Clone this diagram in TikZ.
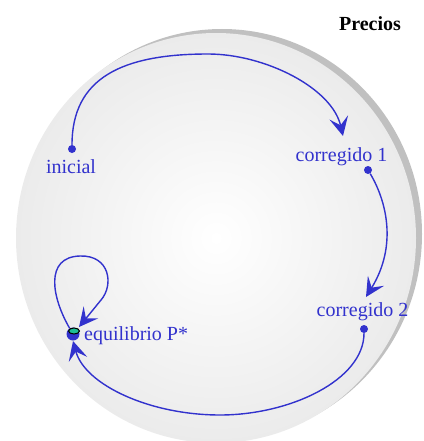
\documentclass[tikz,border=0pt]{standalone}
\usepackage{fontspec}
\setmainfont{Liberation Serif}
\usetikzlibrary{arrows.meta}
\definecolor{flowblue}{RGB}{50,50,205}
\definecolor{eqteal}{RGB}{30,190,150}
\definecolor{shadowgray}{RGB}{192,192,192}
\pgfdeclareradialshading{ball}{\pgfpoint{0bp}{0bp}}{color(0bp)=(white); color(32bp)=(black!10); color(50bp)=(black!11)}
\begin{document}
\begin{tikzpicture}[x=1pt,y=-1pt,
  dot/.style={circle,fill=flowblue,inner sep=0pt,minimum size=8pt},
  lbl/.style={text=flowblue,font=\rmfamily\fontsize{20}{24}\selectfont,inner sep=0pt,anchor=base},
  flow/.style={draw=flowblue,line width=1.4pt,-{Stealth[length=19pt,width=19pt,inset=8pt]}}]
\useasboundingbox (0,0) rectangle (423,441);
\clip (0,0) rectangle (423,441);
% sphere
\fill[shadowgray] (222,234) ellipse [x radius=200, y radius=205];
\shade[shading=ball] (216,238) ellipse [x radius=200, y radius=205];
% title
\node[inner sep=0pt,anchor=base,font=\rmfamily\fontsize{20}{24}\selectfont\bfseries] (title) at (370,31) {Precios};
% points
\node[dot] (ini) at (72,149) {};
\node[dot] (c1) at (368,170) {};
\node[dot] (c2) at (364,329) {};
\node[circle,fill=flowblue,inner sep=0pt,minimum size=13pt] (eq) at (73,334) {};
% labels
\node[lbl] (inilbl) at (71,173) {inicial};
\node[lbl] (c1lbl) at (341.5,161) {corregido 1};
\node[lbl] (c2lbl) at (362.5,316) {corregido 2};
\node[lbl,anchor=base west] (eqlbl) at (84,340) {equilibrio P*};
% arrow tips
\coordinate (t1) at (343,136);
\coordinate (t2) at (366,297);
\coordinate (t3) at (73,341);
\coordinate (t4) at (79,327);
% connectors
\draw[flow] (ini) .. controls (72,78) and (122,54) .. (208,54)
  .. controls (265,54) and (332,88) .. (t1);
\draw[flow] (c1) .. controls (386,200) and (398,245) .. (t2);
\draw[flow] (c2) .. controls (364,380) and (290,415) .. (220,415)
  .. controls (150,415) and (85,385) .. (t3);
\draw[flow] (eq) .. controls (52,298) and (44,257) .. (80,256)
  .. controls (110,255) and (114,285) .. (101,300) -- (t4);
% equilibrium marker
\draw[black,line width=1pt,fill=eqteal] (74,331) ellipse [x radius=5.5, y radius=3];
\end{tikzpicture}
\end{document}
